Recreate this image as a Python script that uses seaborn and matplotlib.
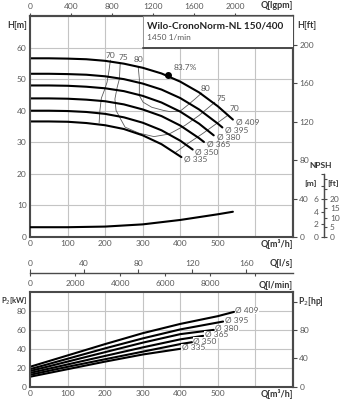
import matplotlib
matplotlib.use("Agg")
import matplotlib.pyplot as plt
from matplotlib.patches import Rectangle
import pandas as pd
import seaborn as sns

sns.set_theme(style="white")
plt.rcParams["font.family"] = ["Lato", "DejaVu Sans"]

# ---------------- data ----------------
diameters = ["409", "395", "380", "365", "350", "335"]

# head curves: flow Q [m³/h] and head H [m]
head_q_409 = [0, 50, 100, 150, 200, 250, 300, 350, 400, 450, 500, 540]
head_h_409 = [56.6, 56.6, 56.5, 56.3, 55.8, 54.9, 53.6, 51.8, 49.2, 45.8, 41.4, 37.2]
head_q_395 = [0, 50, 100, 150, 200, 250, 300, 350, 400, 450, 500, 512]
head_h_395 = [51.7, 51.7, 51.6, 51.4, 50.9, 50.0, 48.6, 46.7, 44.0, 40.4, 35.9, 34.7]
head_q_380 = [0, 50, 100, 150, 200, 250, 300, 350, 400, 450, 489]
head_h_380 = [48.0, 48.0, 47.9, 47.6, 47.1, 46.2, 44.7, 42.6, 39.7, 35.9, 32.2]
head_q_365 = [0, 50, 100, 150, 200, 250, 300, 350, 400, 450, 463]
head_h_365 = [43.9, 43.9, 43.8, 43.5, 43.0, 42.0, 40.4, 38.3, 35.3, 31.3, 30.1]
head_q_350 = [0, 50, 100, 150, 200, 250, 300, 350, 400, 433]
head_h_350 = [40.0, 40.0, 39.9, 39.6, 39.0, 37.9, 36.2, 33.8, 30.5, 27.7]
head_q_335 = [0, 50, 100, 150, 200, 250, 300, 350, 403]
head_h_335 = [36.6, 36.6, 36.5, 36.1, 35.4, 34.2, 32.2, 29.4, 25.3]

# shaft power curves: P2 [kW]
power_q_409 = [0, 100, 200, 300, 400, 500, 543]
power_p_409 = [21.0, 33.0, 45.0, 56.5, 66.3, 74.5, 79.0]
power_q_395 = [0, 100, 200, 300, 400, 500, 514]
power_p_395 = [18.5, 29.5, 40.5, 51.0, 60.5, 67.8, 68.8]
power_q_380 = [0, 100, 200, 300, 400, 489]
power_p_380 = [16.5, 26.5, 36.5, 46.5, 55.5, 60.0]
power_q_365 = [0, 100, 200, 300, 400, 461]
power_p_365 = [14.5, 23.5, 32.5, 41.5, 50.0, 53.7]
power_q_350 = [0, 100, 200, 300, 400, 431]
power_p_350 = [12.5, 21.0, 29.0, 37.0, 45.0, 47.0]
power_q_335 = [0, 100, 200, 300, 400]
power_p_335 = [10.5, 18.5, 26.5, 34.0, 40.0]

# NPSH required [m]
npsh_q = [0, 100, 200, 300, 400, 500, 540]
npsh_m = [1.55, 1.55, 1.65, 2.0, 2.7, 3.6, 4.0]

# iso-efficiency lines [%]
eta70_left_q = [214, 210, 205, 198, 190, 186, 184]
eta70_left_h = [56.0, 52.5, 49.0, 46.5, 44.0, 40.0, 36.2]
eta70_right_q = [385, 420, 460, 495, 527]
eta70_right_h = [26.6, 29.6, 32.8, 35.8, 38.6]
eta75_q = [240, 238, 232, 226, 229, 241, 253, 290, 330, 370, 412, 450, 492]
eta75_h = [54.8, 50.1, 47.4, 43.7, 40.1, 37.4, 34.8, 32.9, 31.8, 32.6, 35.3, 38.5, 42.7]
eta80_q = [288, 291, 291, 301, 324, 355, 373, 399, 420, 440, 457]
eta80_h = [53.9, 50.1, 44.8, 42.7, 41.1, 40.1, 39.7, 39.8, 41.8, 43.8, 45.6]

bep_q, bep_h, bep_eta = 368, 51.4, "83.7%"

# ---------------- layout ----------------
W, HP = 342, 400
fig = plt.figure(figsize=(W / 100, HP / 100), dpi=100)

def fx(px):
    return px / W

def fy(py):
    return 1 - py / HP

ax_h = fig.add_axes([fx(30), fy(237), fx(293) - fx(30), fy(16) - fy(237)])
ax_p = fig.add_axes([fx(30), fy(386.7), fx(293) - fx(30), fy(292) - fy(386.7)])

SPINE = "#4a4a4a"
GRID = "#c4c4c4"
TICK = "#5a5a5a"
LAB = "#333333"
FS = 6

def head_frame(q, h, d):
    return pd.DataFrame({"Q": q, "H": h, "D": d})

head_df = pd.concat([
    head_frame(head_q_409, head_h_409, "409"),
    head_frame(head_q_395, head_h_395, "395"),
    head_frame(head_q_380, head_h_380, "380"),
    head_frame(head_q_365, head_h_365, "365"),
    head_frame(head_q_350, head_h_350, "350"),
    head_frame(head_q_335, head_h_335, "335"),
], ignore_index=True)

power_df = pd.concat([
    pd.DataFrame({"Q": power_q_409, "P": power_p_409, "D": "409"}),
    pd.DataFrame({"Q": power_q_395, "P": power_p_395, "D": "395"}),
    pd.DataFrame({"Q": power_q_380, "P": power_p_380, "D": "380"}),
    pd.DataFrame({"Q": power_q_365, "P": power_p_365, "D": "365"}),
    pd.DataFrame({"Q": power_q_350, "P": power_p_350, "D": "350"}),
    pd.DataFrame({"Q": power_q_335, "P": power_p_335, "D": "335"}),
], ignore_index=True)

eta_df = pd.concat([
    pd.DataFrame({"Q": eta70_left_q, "H": eta70_left_h, "line": "70a"}),
    pd.DataFrame({"Q": eta70_right_q, "H": eta70_right_h, "line": "70b"}),
    pd.DataFrame({"Q": eta75_q, "H": eta75_h, "line": "75"}),
    pd.DataFrame({"Q": eta80_q, "H": eta80_h, "line": "80"}),
], ignore_index=True)

npsh_df = pd.DataFrame({"Q": npsh_q, "NPSH": npsh_m})

# ---------------- head chart ----------------
ax_h.set_xlim(0, 700)
ax_h.set_ylim(0, 70)
ax_h.set_xticks(range(0, 700, 100))
ax_h.set_xticklabels(["0", "100", "200", "300", "400", "500", ""])
ax_h.set_yticks(range(0, 70, 10))
ax_h.grid(True, color=GRID, lw=0.8)
ax_h.tick_params(length=0, labelsize=FS, labelcolor=TICK, pad=2.5)
for s in ax_h.spines.values():
    s.set_color(SPINE)
    s.set_linewidth(1.5)

sns.lineplot(data=eta_df, x="Q", y="H", units="line", estimator=None, sort=False,
             color="#5a5a5a", lw=0.6, ax=ax_h)
sns.lineplot(data=head_df, x="Q", y="H", units="D", estimator=None, sort=False,
             color="black", lw=1.5, ax=ax_h)
ax_h.set_xlabel("")
ax_h.set_ylabel("")

ax_h.plot([bep_q], [bep_h], "o", color="black", ms=4, zorder=5)
ax_h.text(414, 53.7, bep_eta, fontsize=FS, color=TICK, ha="center", va="center")

for lab, q, h in [("70", 215, 57.4), ("75", 248, 57.0), ("80", 290, 56.1),
                  ("80", 468, 46.9), ("75", 510, 43.8), ("70", 545, 40.6)]:
    ax_h.text(q, h, lab, fontsize=FS, color=TICK, ha="center", va="center")

head_ends = head_df.groupby("D", sort=False).last()
for d in diameters:
    ax_h.annotate(f"Ø {d}", xy=(head_ends.loc[d, "Q"], head_ends.loc[d, "H"]),
                  xytext=(2, -1.5), textcoords="offset points", fontsize=FS,
                  color=TICK, ha="left", va="center")

# title box
ax_h.add_patch(Rectangle((300, 60), 400, 10, facecolor="white", edgecolor="#8a8a8a",
                         lw=0.6, zorder=3))
ax_h.plot([300, 700], [60, 60], color=SPINE, lw=1.4, zorder=4)
fig.text(fx(147), fy(26), "Wilo-CronoNorm-NL 150/400", fontsize=7.2,
         fontweight="bold", color="#222222", va="center", ha="left")
fig.text(fx(147), fy(37.5), "1450 1/min", fontsize=FS, color=TICK, va="center", ha="left")

# top axis in imperial gallons per minute
sec_g = ax_h.secondary_xaxis("top", functions=(lambda q: q * 3.6662, lambda g: g / 3.6662))
sec_g.set_xticks([0, 400, 800, 1200, 1600, 2000])
sec_g.tick_params(length=2.5, width=0.8, color=SPINE, labelsize=FS, labelcolor=TICK, pad=1.5)
sec_g.spines["top"].set_color(SPINE)
sec_g.spines["top"].set_linewidth(1.5)

# right axis in feet
sec_ft = ax_h.secondary_yaxis("right", functions=(lambda m: m * 3.28084, lambda f: f / 3.28084))
sec_ft.set_yticks([0, 40, 80, 120, 160, 200])
sec_ft.tick_params(length=3, width=0.8, color=SPINE, labelsize=FS, labelcolor=TICK, pad=1.5)
sec_ft.spines["right"].set_color(SPINE)
sec_ft.spines["right"].set_linewidth(1.5)

# NPSH scale (metres left of the spine, feet right of it)
npsh_pos = (324.3 - 30) / (293 - 30)
ax_nm = ax_h.twinx()
ax_nm.set_ylim(0, 35)
sns.lineplot(data=npsh_df, x="Q", y="NPSH", color="black", lw=1.5, ax=ax_nm)
ax_nm.set_xlabel("")
ax_nm.set_ylabel("")
for s in ["top", "bottom", "right"]:
    ax_nm.spines[s].set_visible(False)
ax_nm.spines["left"].set_visible(True)
ax_nm.spines["left"].set_position(("axes", npsh_pos))
ax_nm.spines["left"].set_bounds(0, 10)
ax_nm.spines["left"].set_color(SPINE)
ax_nm.spines["left"].set_linewidth(0.9)
ax_nm.yaxis.set_ticks_position("left")
ax_nm.yaxis.set_label_position("left")
ax_nm.set_yticks([0, 2, 4, 6, 8, 10])
ax_nm.set_yticklabels(["0", "2", "4", "6", "", ""])
ax_nm.tick_params(axis="y", length=2.5, width=0.8, color=SPINE, labelsize=FS,
                  labelcolor=TICK, pad=1.5)

ax_nf = ax_h.twinx()
ax_nf.set_ylim(0, 35 / 0.3048)
for s in ["top", "bottom", "left"]:
    ax_nf.spines[s].set_visible(False)
ax_nf.spines["right"].set_position(("axes", npsh_pos))
ax_nf.spines["right"].set_bounds(0, 10 / 0.3048)
ax_nf.spines["right"].set_color(SPINE)
ax_nf.spines["right"].set_linewidth(0.9)
ax_nf.set_yticks([0, 5, 10, 15, 20, 25, 30])
ax_nf.set_yticklabels(["0", "5", "10", "15", "20", "", ""])
ax_nf.tick_params(axis="y", length=2.5, width=0.8, color=SPINE, labelsize=FS,
                  labelcolor=TICK, pad=1.5)

fig.text(fx(7), fy(25), "H[m]", fontsize=6.5, fontweight="bold", color=LAB, va="center")
fig.text(fx(297), fy(25), "H[ft]", fontsize=6.5, fontweight="bold", color=LAB, va="center")
fig.text(fx(293), fy(6), "Q[lgpm]", fontsize=6.5, fontweight="bold", color=LAB,
         va="center", ha="right")
fig.text(fx(293), fy(244.3), "Q[m³/h]", fontsize=6.5, fontweight="bold", color=LAB,
         va="center", ha="right")
fig.text(fx(321), fy(165), "NPSH", fontsize=6, fontweight="bold", color=LAB,
         va="center", ha="center")
fig.text(fx(317), fy(183.3), "[m]", fontsize=6, fontweight="bold", color=LAB,
         va="center", ha="right")
fig.text(fx(327), fy(183.3), "[ft]", fontsize=6, fontweight="bold", color=LAB,
         va="center", ha="left")

# ---------------- power chart ----------------
ax_p.set_xlim(0, 700)
ax_p.set_ylim(0, 100)
ax_p.set_xticks(range(0, 700, 100))
ax_p.set_xticklabels(["0", "100", "200", "300", "400", "500", ""])
ax_p.set_yticks([0, 20, 40, 60, 80])
ax_p.grid(True, color=GRID, lw=0.8)
ax_p.tick_params(length=0, labelsize=FS, labelcolor=TICK, pad=2.5)
for s in ax_p.spines.values():
    s.set_color(SPINE)
    s.set_linewidth(1.5)

sns.lineplot(data=power_df, x="Q", y="P", units="D", estimator=None, sort=False,
             color="black", lw=1.5, ax=ax_p)
ax_p.set_xlabel("")
ax_p.set_ylabel("")

power_ends = power_df.groupby("D", sort=False).last()
for d in diameters:
    ax_p.annotate(f"Ø {d}", xy=(power_ends.loc[d, "Q"], power_ends.loc[d, "P"]),
                  xytext=(1, 1), textcoords="offset points", fontsize=FS,
                  color=TICK, ha="left", va="center",
                  bbox=dict(boxstyle="square,pad=0.05", fc="white", ec="none"))

sec_hp = ax_p.secondary_yaxis("right", functions=(lambda k: k * 1.34102, lambda h: h / 1.34102))
sec_hp.set_yticks([0, 40, 80, 120])
sec_hp.set_yticklabels(["0", "40", "80", ""])
sec_hp.tick_params(length=3, width=0.8, color=SPINE, labelsize=FS, labelcolor=TICK, pad=1.5)
sec_hp.spines["right"].set_color(SPINE)
sec_hp.spines["right"].set_linewidth(1.5)

# flow scales in l/s (above the line) and l/min (below it)
loc_q = (386.7 - 273.3) / (386.7 - 292)
sec_ls = ax_p.secondary_xaxis(loc_q, functions=(lambda q: q / 3.6, lambda l: l * 3.6))
sec_ls.set_xticks([0, 40, 80, 120, 160])
sec_ls.tick_params(length=3, width=0.8, color=SPINE, labelsize=FS, labelcolor=TICK, pad=1.5)
sec_ls.spines["top"].set_color(SPINE)
sec_ls.spines["top"].set_linewidth(1.0)

sec_lm = ax_p.secondary_xaxis(loc_q, functions=(lambda q: q * 1000 / 60, lambda l: l * 60 / 1000))
sec_lm.set_alignment("bottom")
sec_lm.set_xticks([0, 2000, 4000, 6000, 8000, 10000])
sec_lm.set_xticklabels(["0", "2000", "4000", "6000", "8000", ""])
sec_lm.tick_params(length=2.5, width=0.8, color=SPINE, labelsize=FS, labelcolor=TICK, pad=2.5)
sec_lm.spines["bottom"].set_visible(False)

fig.text(fx(293), fy(263.3), "Q[l/s]", fontsize=6.5, fontweight="bold", color=LAB,
         va="center", ha="right")
fig.text(fx(293), fy(285.5), "Q[l/min]", fontsize=6.5, fontweight="bold", color=LAB,
         va="center", ha="right")
fig.text(fx(1), fy(301.7), "P$_2$[kW]", fontsize=5.5, fontweight="bold", color=LAB,
         va="center", ha="left", zorder=10)
fig.text(fx(298), fy(302), "P$_2$[hp]", fontsize=6.2, fontweight="bold", color=LAB,
         va="center", ha="left")
fig.text(fx(293), fy(394.3), "Q[m³/h]", fontsize=6.5, fontweight="bold", color=LAB,
         va="center", ha="right")

fig.savefig("out.png", dpi=100)
